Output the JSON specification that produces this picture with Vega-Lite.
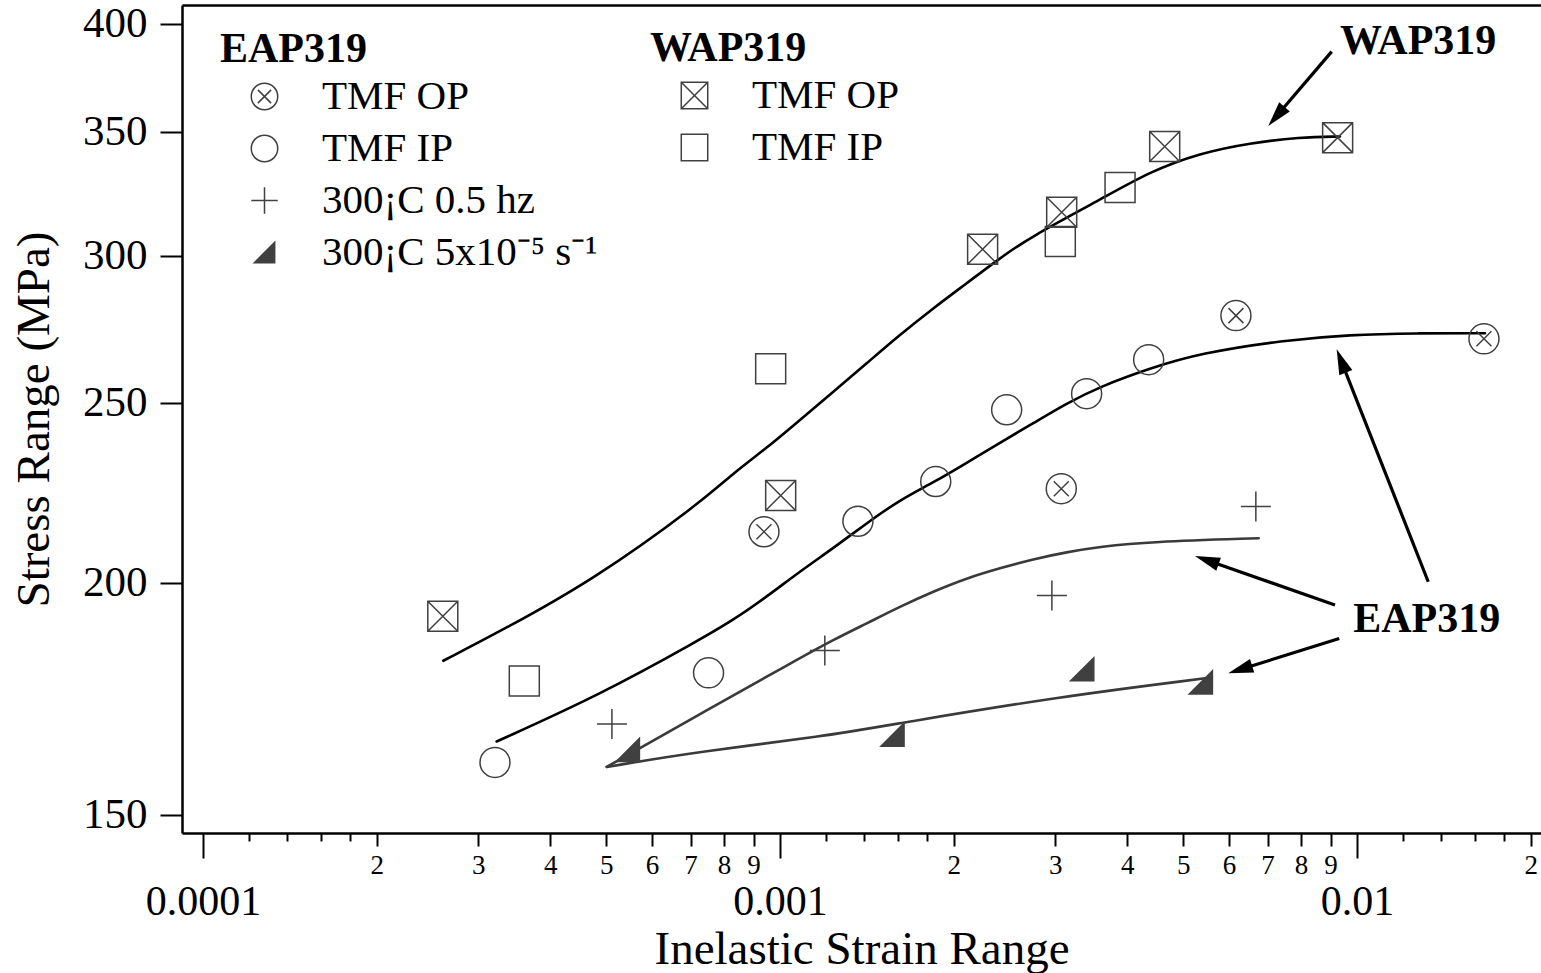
{
  "$schema": "https://vega.github.io/schema/vega-lite/v6.json",
  "width": 1359,
  "height": 828,
  "autosize": {"type": "none"},
  "padding": {"left": 182, "top": 5, "right": 0, "bottom": 140},
  "background": "white",
  "config": {
    "view": {"stroke": null},
    "axis": {
      "grid": false,
      "domainColor": "black",
      "tickColor": "black",
      "labelColor": "black",
      "titleColor": "black",
      "labelFont": "Liberation Serif",
      "titleFont": "Liberation Serif",
      "titleFontWeight": "normal",
      "domainWidth": 2.5,
      "tickWidth": 2,
      "labelOverlap": false,
      "labelFlush": false,
      "labelBound": false
    },
    "legend": {
      "orient": "none",
      "direction": "vertical",
      "padding": 0,
      "titleFont": "Liberation Serif",
      "titleFontSize": 42,
      "titleFontWeight": "bold",
      "titleColor": "black",
      "titlePadding": 5,
      "labelFont": "Liberation Serif",
      "labelFontSize": 41,
      "labelColor": "black",
      "labelLimit": 0,
      "labelOffset": 37,
      "symbolOffset": 24,
      "symbolSize": 700,
      "symbolStrokeWidth": 1.5,
      "rowPadding": 10
    }
  },
  "datasets": {
    "curves": [
      {"curve": "WAP", "x": 0.0002609, "y": 181.6},
      {"curve": "WAP", "x": 0.0003311, "y": 188.7},
      {"curve": "WAP", "x": 0.0004743, "y": 200.7},
      {"curve": "WAP", "x": 0.0007266, "y": 220.8},
      {"curve": "WAP", "x": 0.0008299, "y": 229.2},
      {"curve": "WAP", "x": 0.0009484, "y": 236.4},
      {"curve": "WAP", "x": 0.0010831, "y": 244.8},
      {"curve": "WAP", "x": 0.0012373, "y": 253.5},
      {"curve": "WAP", "x": 0.0014134, "y": 262.6},
      {"curve": "WAP", "x": 0.0016144, "y": 272.1},
      {"curve": "WAP", "x": 0.001844, "y": 281.2},
      {"curve": "WAP", "x": 0.0021066, "y": 290.0},
      {"curve": "WAP", "x": 0.002406, "y": 299.2},
      {"curve": "WAP", "x": 0.002712, "y": 307.0},
      {"curve": "WAP", "x": 0.003586, "y": 321.6},
      {"curve": "WAP", "x": 0.004377, "y": 333.1},
      {"curve": "WAP", "x": 0.005345, "y": 340.8},
      {"curve": "WAP", "x": 0.006525, "y": 345.1},
      {"curve": "WAP", "x": 0.007965, "y": 347.6},
      {"curve": "WAP", "x": 0.009345, "y": 347.9},
      {"curve": "EAP_TMF", "x": 0.0003228, "y": 164.3},
      {"curve": "EAP_TMF", "x": 0.0004877, "y": 174.1},
      {"curve": "EAP_TMF", "x": 0.0007266, "y": 186.4},
      {"curve": "EAP_TMF", "x": 0.0008299, "y": 191.0},
      {"curve": "EAP_TMF", "x": 0.0009484, "y": 196.6},
      {"curve": "EAP_TMF", "x": 0.0010831, "y": 202.9},
      {"curve": "EAP_TMF", "x": 0.0012373, "y": 208.8},
      {"curve": "EAP_TMF", "x": 0.0014134, "y": 215.4},
      {"curve": "EAP_TMF", "x": 0.0016144, "y": 221.7},
      {"curve": "EAP_TMF", "x": 0.001844, "y": 226.5},
      {"curve": "EAP_TMF", "x": 0.0021066, "y": 232.1},
      {"curve": "EAP_TMF", "x": 0.002406, "y": 238.0},
      {"curve": "EAP_TMF", "x": 0.002748, "y": 243.8},
      {"curve": "EAP_TMF", "x": 0.00314, "y": 249.9},
      {"curve": "EAP_TMF", "x": 0.003586, "y": 255.1},
      {"curve": "EAP_TMF", "x": 0.004377, "y": 261.0},
      {"curve": "EAP_TMF", "x": 0.005345, "y": 265.9},
      {"curve": "EAP_TMF", "x": 0.007451, "y": 270.2},
      {"curve": "EAP_TMF", "x": 0.009726, "y": 272.1},
      {"curve": "EAP_TMF", "x": 0.01269, "y": 272.6},
      {"curve": "EAP_TMF", "x": 0.01667, "y": 272.6},
      {"curve": "EAP_05", "x": 0.0005009, "y": 159.2},
      {"curve": "EAP_05", "x": 0.0007266, "y": 170.0},
      {"curve": "EAP_05", "x": 0.0010689, "y": 181.8},
      {"curve": "EAP_05", "x": 0.0012373, "y": 186.4},
      {"curve": "EAP_05", "x": 0.0014134, "y": 190.2},
      {"curve": "EAP_05", "x": 0.0016144, "y": 194.2},
      {"curve": "EAP_05", "x": 0.001844, "y": 197.9},
      {"curve": "EAP_05", "x": 0.0021066, "y": 201.2},
      {"curve": "EAP_05", "x": 0.002406, "y": 203.7},
      {"curve": "EAP_05", "x": 0.002748, "y": 206.0},
      {"curve": "EAP_05", "x": 0.00314, "y": 207.8},
      {"curve": "EAP_05", "x": 0.003586, "y": 209.2},
      {"curve": "EAP_05", "x": 0.004377, "y": 210.5},
      {"curve": "EAP_05", "x": 0.006755, "y": 211.4},
      {"curve": "EAP_slow", "x": 0.0005009, "y": 159.2},
      {"curve": "EAP_slow", "x": 0.0007266, "y": 162.3},
      {"curve": "EAP_slow", "x": 0.001189, "y": 165.3},
      {"curve": "EAP_slow", "x": 0.001614, "y": 168.1},
      {"curve": "EAP_slow", "x": 0.003053, "y": 173.7},
      {"curve": "EAP_slow", "x": 0.005457, "y": 177.7}
    ],
    "eap": [
      {"series": "TMF OP", "x": 0.0009382, "y": 213.1},
      {"series": "TMF OP", "x": 0.003073, "y": 224.8},
      {"series": "TMF OP", "x": 0.00617, "y": 278.6},
      {"series": "TMF OP", "x": 0.0166, "y": 270.7},
      {"series": "TMF IP", "x": 0.0003207, "y": 160.1},
      {"series": "TMF IP", "x": 0.000752, "y": 178.9},
      {"series": "TMF IP", "x": 0.001365, "y": 215.9},
      {"series": "TMF IP", "x": 0.001862, "y": 226.8},
      {"series": "TMF IP", "x": 0.002471, "y": 247.9},
      {"series": "TMF IP", "x": 0.0034, "y": 252.9},
      {"series": "TMF IP", "x": 0.004355, "y": 263.8},
      {"series": "300¡C 0.5 hz", "x": 0.0005114, "y": 167.9},
      {"series": "300¡C 0.5 hz", "x": 0.001196, "y": 183.9},
      {"series": "300¡C 0.5 hz", "x": 0.00296, "y": 196.9},
      {"series": "300¡C 0.5 hz", "x": 0.00668, "y": 219.9},
      {"series": "300¡C 5x10⁻⁵ s⁻¹", "x": 0.000545, "y": 162.6},
      {"series": "300¡C 5x10⁻⁵ s⁻¹", "x": 0.001567, "y": 165.7},
      {"series": "300¡C 5x10⁻⁵ s⁻¹", "x": 0.003341, "y": 179.7},
      {"series": "300¡C 5x10⁻⁵ s⁻¹", "x": 0.005364, "y": 176.8}
    ],
    "wap": [
      {"series": "TMF OP", "x": 0.0002604, "y": 191.9},
      {"series": "TMF OP", "x": 0.0010028, "y": 222.9},
      {"series": "TMF OP", "x": 0.002245, "y": 302.5},
      {"series": "TMF OP", "x": 0.003078, "y": 316.7},
      {"series": "TMF OP", "x": 0.004643, "y": 343.6},
      {"series": "TMF OP", "x": 0.009258, "y": 347.4},
      {"series": "TMF IP", "x": 0.0003605, "y": 177.1},
      {"series": "TMF IP", "x": 0.0009636, "y": 260.8},
      {"series": "TMF IP", "x": 0.003061, "y": 305.4},
      {"series": "TMF IP", "x": 0.003885, "y": 326.6}
    ],
    "arrows": [
      {"arrow": "a1", "xs": 0.00904, "ys": 386.5, "xe": 0.007295, "ye": 357.5, "xt": 0.00702, "yt": 352.5},
      {"arrow": "a2", "xs": 0.01329, "ys": 200.3, "xe": 0.009427, "ye": 262.6, "xt": 0.009222, "yt": 267.2},
      {"arrow": "a3", "xs": 0.00916, "ys": 194.6, "xe": 0.005545, "ye": 205.5, "xt": 0.00524, "yt": 206.8},
      {"arrow": "a4", "xs": 0.009318, "ys": 186.7, "xe": 0.006335, "ye": 179.8, "xt": 0.005984, "yt": 178.8}
    ],
    "notes": [
      {"text": "WAP319", "x": 0.009345, "y": 385.2},
      {"text": "EAP319", "x": 0.009853, "y": 188.3}
    ]
  },
  "resolve": {
    "scale": {"shape": "independent"},
    "axis": {"x": "independent", "y": "independent"}
  },
  "layer": [
    {
      "data": {"name": "curves"},
      "mark": {"type": "line", "interpolate": "basis", "strokeCap": "round"},
      "encoding": {
        "x": {
          "field": "x", "type": "quantitative",
          "scale": {"type": "log", "domain": [0.00009197, 0.020844], "nice": false},
          "axis": {
            "orient": "bottom",
            "values": [0.0001, 0.001, 0.01],
            "tickSize": 25,
            "labelFontSize": 42,
            "labelPadding": 23,
            "labelExpr": "datum.value < 0.0005 ? '0.0001' : (datum.value < 0.005 ? '0.001' : '0.01')",
            "title": "Inelastic Strain Range",
            "titleFontSize": 47,
            "titlePadding": 4
          }
        },
        "y": {
          "field": "y", "type": "quantitative",
          "scale": {"type": "log", "domain": [146.68, 409.5], "nice": false},
          "axis": {
            "orient": "left",
            "values": [150, 200, 250, 300, 350, 400],
            "format": "d",
            "tickSize": 22,
            "labelFontSize": 43,
            "labelPadding": 13,
            "title": "Stress Range (MPa)",
            "titleFontSize": 47,
            "titlePadding": 24
          }
        },
        "stroke": {
          "field": "curve", "type": "nominal",
          "scale": {"domain": ["WAP", "EAP_TMF", "EAP_05", "EAP_slow"], "range": ["#000000", "#000000", "#3a3a3a", "#3a3a3a"]},
          "legend": null
        },
        "strokeWidth": {
          "field": "curve", "type": "ordinal",
          "scale": {"domain": ["WAP", "EAP_TMF", "EAP_05", "EAP_slow"], "range": [2.6, 2.6, 2.2, 2.2]},
          "legend": null
        }
      }
    },
    {
      "data": {"name": "eap"},
      "mark": {"type": "point", "filled": false, "opacity": 1, "size": 900, "color": "#404040", "stroke": "#404040", "strokeWidth": 1.5},
      "encoding": {
        "x": {
          "field": "x", "type": "quantitative",
          "scale": {"type": "log", "domain": [0.00009197, 0.020844], "nice": false},
          "axis": {
            "orient": "bottom",
            "domain": false,
            "values": [0.0002, 0.0003, 0.0004, 0.0005, 0.0006, 0.0007, 0.0008, 0.0009, 0.002, 0.003, 0.004, 0.005, 0.006, 0.007, 0.008, 0.009, 0.02],
            "tickSize": 13,
            "labelFontSize": 27,
            "labelPadding": 6,
            "labelExpr": "format(datum.value / pow(10, floor(log(datum.value) / LN10 + 1e-9)), '.0f')",
            "title": null
          }
        },
        "y": {
          "field": "y", "type": "quantitative",
          "scale": {"type": "log", "domain": [146.68, 409.5], "nice": false},
          "axis": null
        },
        "shape": {
          "field": "series", "type": "nominal",
          "scale": {
            "domain": ["TMF OP", "TMF IP", "300¡C 0.5 hz", "300¡C 5x10⁻⁵ s⁻¹"],
            "range": [
              "M 1 0 A 1 1 0 1 1 -1 0 A 1 1 0 1 1 1 0 Z M -0.5 -0.5 L 0.5 0.5 M -0.5 0.5 L 0.5 -0.5",
              "circle",
              "M -1 0 L 1 0 M 0 -1 L 0 1",
              "M 0.77 -0.77 L 0.77 0.77 L -0.77 0.77 Z M -0.7 0.7 L -0.7 0.77 M -0.63 0.63 L -0.63 0.77 M -0.56 0.56 L -0.56 0.77 M -0.49 0.49 L -0.49 0.77 M -0.42 0.42 L -0.42 0.77 M -0.35 0.35 L -0.35 0.77 M -0.28 0.28 L -0.28 0.77 M -0.21 0.21 L -0.21 0.77 M -0.14 0.14 L -0.14 0.77 M -0.07 0.07 L -0.07 0.77 M 0 0 L 0 0.77 M 0.07 -0.07 L 0.07 0.77 M 0.14 -0.14 L 0.14 0.77 M 0.21 -0.21 L 0.21 0.77 M 0.28 -0.28 L 0.28 0.77 M 0.35 -0.35 L 0.35 0.77 M 0.42 -0.42 L 0.42 0.77 M 0.49 -0.49 L 0.49 0.77 M 0.56 -0.56 L 0.56 0.77 M 0.63 -0.63 L 0.63 0.77 M 0.7 -0.7 L 0.7 0.77"
            ]
          },
          "legend": {"title": "EAP319", "legendX": 38, "legendY": 24}
        }
      }
    },
    {
      "data": {"name": "wap"},
      "mark": {"type": "point", "filled": false, "opacity": 1, "size": 900, "color": "#404040", "stroke": "#404040", "strokeWidth": 1.5},
      "encoding": {
        "x": {
          "field": "x", "type": "quantitative",
          "scale": {"type": "log", "domain": [0.00009197, 0.020844], "nice": false},
          "axis": {
            "orient": "bottom",
            "domain": false,
            "values": [0.00012, 0.00014, 0.00016, 0.00018, 0.0012, 0.0014, 0.0016, 0.0018, 0.012, 0.014, 0.016, 0.018],
            "tickSize": 8,
            "labels": false,
            "title": null
          }
        },
        "y": {
          "field": "y", "type": "quantitative",
          "scale": {"type": "log", "domain": [146.68, 409.5], "nice": false},
          "axis": null
        },
        "shape": {
          "field": "series", "type": "nominal",
          "scale": {
            "domain": ["TMF OP", "TMF IP"],
            "range": [
              "M -1 -1 L 1 -1 L 1 1 L -1 1 Z M -1 -1 L 1 1 M -1 1 L 1 -1",
              "square"
            ]
          },
          "legend": {"title": "WAP319", "legendX": 468, "legendY": 23}
        }
      }
    },
    {
      "data": {"name": "arrows"},
      "mark": {"type": "rule", "color": "black", "strokeWidth": 3.2},
      "encoding": {
        "x": {
          "field": "xs", "type": "quantitative",
          "scale": {"type": "log", "domain": [0.00009197, 0.020844], "nice": false},
          "axis": {"orient": "top", "domain": true, "ticks": false, "labels": false, "title": null}
        },
        "y": {
          "field": "ys", "type": "quantitative",
          "scale": {"type": "log", "domain": [146.68, 409.5], "nice": false},
          "axis": null
        },
        "x2": {"field": "xe"},
        "y2": {"field": "ye"}
      }
    },
    {
      "data": {"name": "arrows"},
      "mark": {"type": "point", "filled": true, "opacity": 1, "size": 400, "color": "black", "strokeWidth": 0},
      "encoding": {
        "x": {
          "field": "xt", "type": "quantitative",
          "scale": {"type": "log", "domain": [0.00009197, 0.020844], "nice": false},
          "axis": null
        },
        "y": {
          "field": "yt", "type": "quantitative",
          "scale": {"type": "log", "domain": [146.68, 409.5], "nice": false},
          "axis": null
        },
        "shape": {
          "field": "arrow", "type": "nominal",
          "scale": {
            "domain": ["a1", "a2", "a3", "a4"],
            "range": [
              "M 0 0 L 1.09 -2.356 L 2.155 -1.447 Z",
              "M 0 0 L 1.568 2.069 L 0.266 2.583 Z",
              "M 0 0 L 2.591 0.165 L 2.129 1.487 Z",
              "M 0 0 L 2.174 -1.419 L 2.595 -0.084 Z"
            ]
          },
          "legend": null
        }
      }
    },
    {
      "data": {"name": "notes"},
      "mark": {"type": "text", "font": "Liberation Serif", "fontSize": 42, "fontWeight": "bold", "align": "left", "baseline": "alphabetic", "color": "black"},
      "encoding": {
        "x": {
          "field": "x", "type": "quantitative",
          "scale": {"type": "log", "domain": [0.00009197, 0.020844], "nice": false},
          "axis": null
        },
        "y": {
          "field": "y", "type": "quantitative",
          "scale": {"type": "log", "domain": [146.68, 409.5], "nice": false},
          "axis": null
        },
        "text": {"field": "text"}
      }
    }
  ]
}
